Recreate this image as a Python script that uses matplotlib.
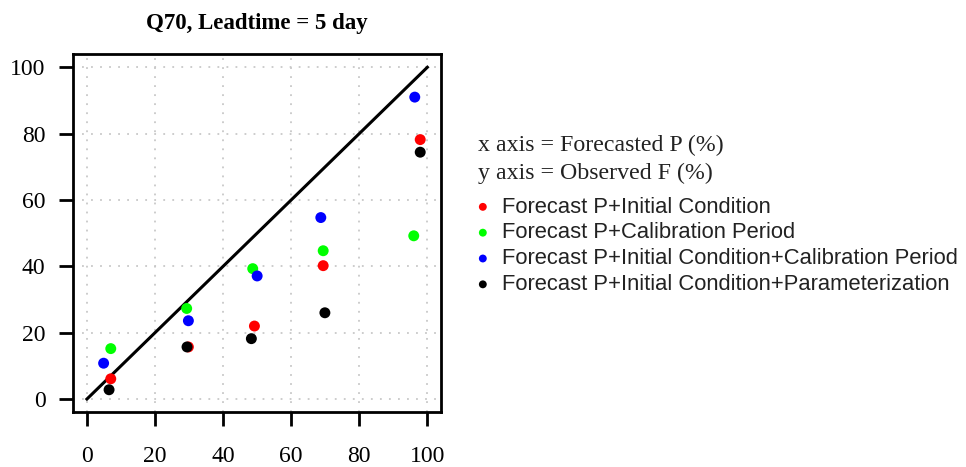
import matplotlib
matplotlib.use("Agg")
import matplotlib.pyplot as plt

# forecast probability (x) vs observed frequency (y), one list per scheme
red_x = [7.0, 29.8, 49.2, 69.4, 97.9]
red_y = [6.1, 15.7, 22.0, 40.2, 78.2]
green_x = [7.0, 29.3, 48.7, 69.4, 96.0]
green_y = [15.2, 27.3, 39.3, 44.7, 49.2]
blue_x = [4.9, 29.8, 50.0, 68.7, 96.3]
blue_y = [10.8, 23.6, 37.1, 54.7, 91.0]
black_x = [6.5, 29.4, 48.3, 69.9, 97.9]
black_y = [2.8, 15.7, 18.2, 26.0, 74.4]

labels = ["Forecast P+Initial Condition", "Forecast P+Calibration Period",
          "Forecast P+Initial Condition+Calibration Period",
          "Forecast P+Initial Condition+Parameterization"]
colors = ["#ff0000", "#00ff00", "#0000ff", "#000000"]
ticks = [0, 20, 40, 60, 80, 100]

serif = "Liberation Serif"
fig = plt.figure(figsize=(9.66, 4.67), dpi=100)
ax = fig.add_axes([0.0759, 0.1171, 0.3806, 0.7673])

ax.set_xlim(-4, 104); ax.set_ylim(-4, 104)
for t in ticks:
    ax.axvline(t, color="#c8c8c8", lw=1.3, ls=(0, (1, 4)), zorder=0)
    ax.axhline(t, color="#c8c8c8", lw=1.3, ls=(0, (1, 4)), zorder=0)
ax.plot([0, 100], [0, 100], color="black", lw=2.2, zorder=2)

series = [(red_x, red_y), (green_x, green_y), (blue_x, blue_y), (black_x, black_y)]
handles = []
for (xs, ys), c, lab in zip(series, colors, labels):
    h = ax.scatter(xs, ys, s=62, color=c, edgecolors="none", zorder=3, label=lab)
    handles.append(h)

ax.set_xticks(ticks); ax.set_yticks(ticks)
for s in ax.spines.values():
    s.set_linewidth(2.0)
ax.tick_params(axis="both", direction="out", length=10, width=2.0, labelsize=17)
ax.tick_params(axis="x", pad=14)
ax.tick_params(axis="y", pad=10)
for lb in ax.get_xticklabels() + ax.get_yticklabels():
    lb.set_fontfamily(serif)
ax.set_title("Q70, Leadtime = 5 day", fontfamily=serif, fontweight="bold", fontsize=16.5, pad=18)

fig.text(0.4948, 0.6895, "x axis = Forecasted P (%)", fontfamily=serif, fontsize=17.2,
         va="center", color="#222222")
fig.text(0.4948, 0.6296, "y axis = Observed F (%)", fontfamily=serif, fontsize=17.2,
         va="center", color="#222222")
leg = fig.legend(handles=handles, labels=labels, loc="upper left", bbox_to_anchor=(0.493, 0.579),
                 frameon=False, prop={"family": "Liberation Sans", "size": 15.8}, markerscale=0.72,
                 handlelength=0.6, handletextpad=0.57, labelspacing=0.22, borderpad=0,
                 borderaxespad=0)
for tx in leg.get_texts():
    tx.set_color("#222222")

fig.savefig("out.png", dpi=100)
